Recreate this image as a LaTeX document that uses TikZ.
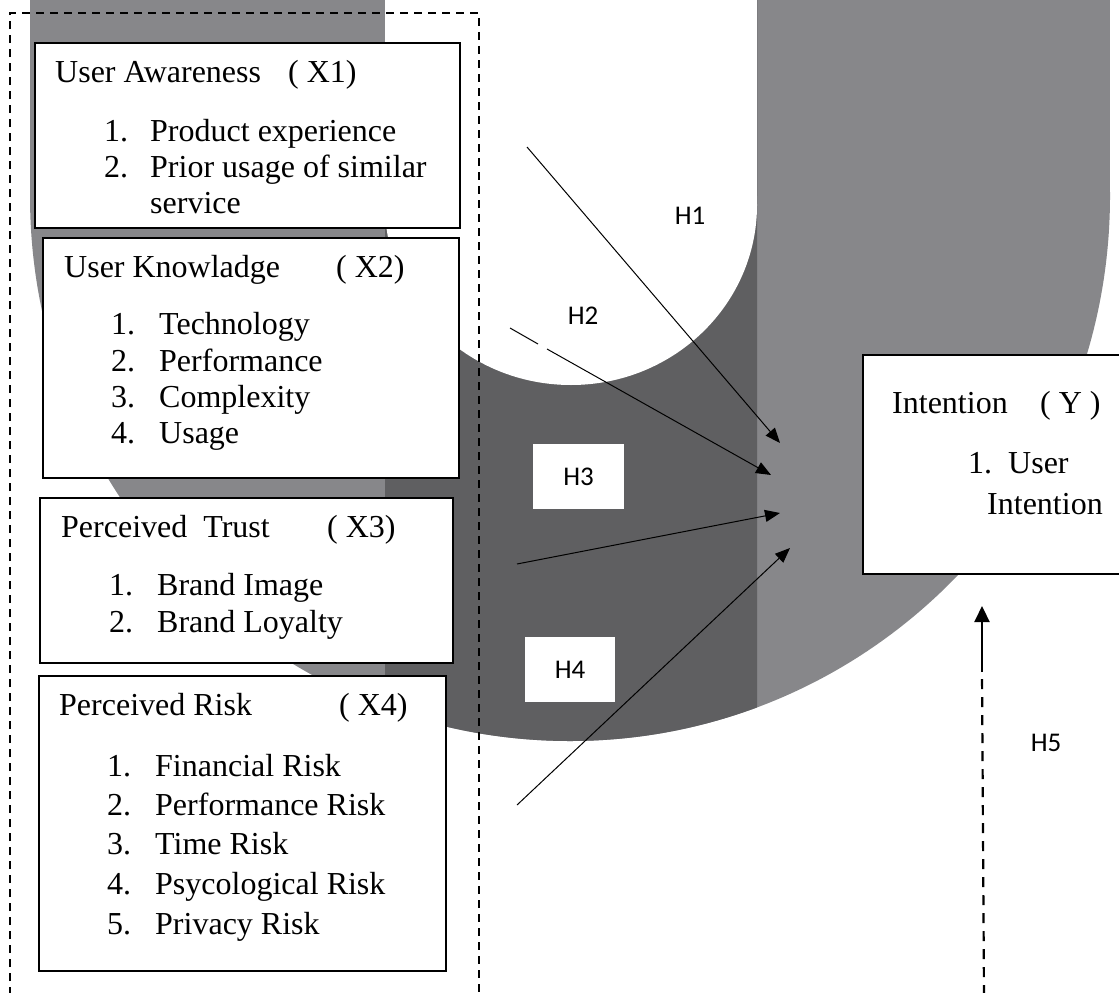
\documentclass[tikz,border=0pt]{standalone}
\usepackage{fontspec}
\setmainfont{Liberation Serif}
\newfontfamily\calib{Carlito}
\usetikzlibrary{arrows.meta}
\definecolor{ugray}{RGB}{135,135,138}
\definecolor{udark}{RGB}{95,95,97}
\begin{document}
\begin{tikzpicture}[x=1pt,y=-1pt,
  txt/.style={anchor=base west, inner sep=0pt, font=\fontsize{32}{38}\selectfont},
  hlab/.style={inner sep=0pt, font=\calib\fontsize{27}{32}\selectfont},
  framebox/.style={draw=black, line width=2.4pt, fill=white, anchor=north west, inner sep=0pt},
  hypline/.style={line width=1pt},
  hyp/.style={line width=1pt, -{Triangle[length=15pt,width=12pt]}},
  outerdash/.style={line width=1.8pt, dash pattern=on 8pt off 6pt},
  hfivedash/.style={line width=2.2pt, dash pattern=on 10pt off 8pt},
  hfive/.style={line width=2.2pt, -{Triangle[length=16pt,width=15pt]}},
  hbox/.style={fill=white, inner sep=0pt},
]
\clip (0,0) rectangle (1119,993);
\fill[white] (0,0) rectangle (1119,993);
% U-shaped background
\fill[ugray] (30,-2) rectangle (1110,196);
\fill[ugray] (570,196) ellipse [x radius=540pt, y radius=545pt];
\begin{scope}
  \clip (385,-2) rectangle (757,995);
  \fill[udark] (570,196) ellipse [x radius=540pt, y radius=545pt];
  \fill[udark] (30,-2) rectangle (1110,196);
\end{scope}
\fill[white] (385,-2) rectangle (757,205);
\fill[white] (571,205) ellipse [x radius=186pt, y radius=180pt];

% dashed grouping frame
\coordinate (d1) at (10,995);
\coordinate (d2) at (10,13);
\coordinate (d3) at (479,13);
\coordinate (d4) at (479,995);
\draw[outerdash] (d1) -- (d2) -- (d3) -- (d4);

% boxes
\node[framebox, minimum width=425pt, minimum height=185pt] (b1) at (34,42) {};
\node[framebox, minimum width=416pt, minimum height=240pt] (b2) at (42,237) {};
\node[framebox, minimum width=413pt, minimum height=165pt] (b3) at (39,497) {};
\node[framebox, minimum width=407pt, minimum height=295pt] (b4) at (38,675) {};
\node[framebox, minimum width=262pt, minimum height=219pt] (by) at (862,354) {};

% box 1
\node[txt] (t1a) at (55,82) {User Awareness};
\node[txt] (t1b) at (288,82) {( X1)};
\node[txt] (t1n1) at (104,141) {1.};
\node[txt] (t1i1) at (150,141) {Product experience};
\node[txt] (t1n2) at (104,177) {2.};
\node[txt] (t1i2) at (150,177) {Prior usage of similar};
\node[txt] (t1i3) at (150,213) {service};

% box 2
\node[txt] (t2a) at (64,277) {User Knowladge};
\node[txt] (t2b) at (336,277) {( X2)};
\node[txt] (t2n1) at (111,334) {1.};
\node[txt] (t2i1) at (159,334) {Technology};
\node[txt] (t2n2) at (111,371) {2.};
\node[txt] (t2i2) at (159,371) {Performance};
\node[txt] (t2n3) at (111,407) {3.};
\node[txt] (t2i3) at (159,407) {Complexity};
\node[txt] (t2n4) at (111,443) {4.};
\node[txt] (t2i4) at (159,443) {Usage};

% box 3
\node[txt] (t3a) at (61,537) {Perceived\ \ Trust};
\node[txt] (t3b) at (327,537) {( X3)};
\node[txt] (t3n1) at (109,595) {1.};
\node[txt] (t3i1) at (157,595) {Brand Image};
\node[txt] (t3n2) at (109,632) {2.};
\node[txt] (t3i2) at (157,632) {Brand Loyalty};

% box 4
\node[txt] (t4a) at (59,715) {Perceived Risk};
\node[txt] (t4b) at (339,715) {( X4)};
\node[txt] (t4n1) at (107,776) {1.};
\node[txt] (t4i1) at (155,776) {Financial Risk};
\node[txt] (t4n2) at (107,815) {2.};
\node[txt] (t4i2) at (155,815) {Performance Risk};
\node[txt] (t4n3) at (107,854) {3.};
\node[txt] (t4i3) at (155,854) {Time Risk};
\node[txt] (t4n4) at (107,894) {4.};
\node[txt] (t4i4) at (155,894) {Psycological Risk};
\node[txt] (t4n5) at (107,934) {5.};
\node[txt] (t4i5) at (155,934) {Privacy Risk};

% intention box
\node[txt] (tya) at (892,413) {Intention};
\node[txt] (tyb) at (1040,413) {( Y )};
\node[txt] (tyn1) at (968,473) {1.};
\node[txt] (tyi1) at (1008,473) {User};
\node[txt] (tyi2) at (987,514) {Intention};

% hypothesis label boxes
\node[hbox, hlab, minimum width=91pt, minimum height=65pt] (h3) at (578.5,476.5) {H3};
\node[hbox, hlab, minimum width=90pt, minimum height=65pt] (h4) at (570,669.5) {H4};
\node[hlab] (h1) at (690,216) {H1};
\node[hlab] (h2) at (583,316) {H2};
\node[hlab] (h5) at (1046,743) {H5};

% arrows
\coordinate (h1s) at (527,147);
\coordinate (h1e) at (780,443);
\draw[hyp] (h1s) -- (h1e);
\coordinate (h2s) at (510,328);
\coordinate (h2g1) at (538,344);
\coordinate (h2g2) at (547,349);
\coordinate (h2e) at (771,475);
\draw[hypline] (h2s) -- (h2g1);
\draw[hyp] (h2g2) -- (h2e);
\coordinate (h3s) at (517,564);
\coordinate (h3e) at (780,513);
\draw[hyp] (h3s) -- (h3e);
\coordinate (h4s) at (517,805);
\coordinate (h4e) at (790,548);
\draw[hyp] (h4s) -- (h4e);
\coordinate (h5s) at (984,995);
\coordinate (h5m) at (982,672);
\coordinate (h5e) at (982,606);
\draw[hfivedash] (h5s) -- (h5m);
\draw[hfive] (h5m) -- (h5e);
\end{tikzpicture}
\end{document}
